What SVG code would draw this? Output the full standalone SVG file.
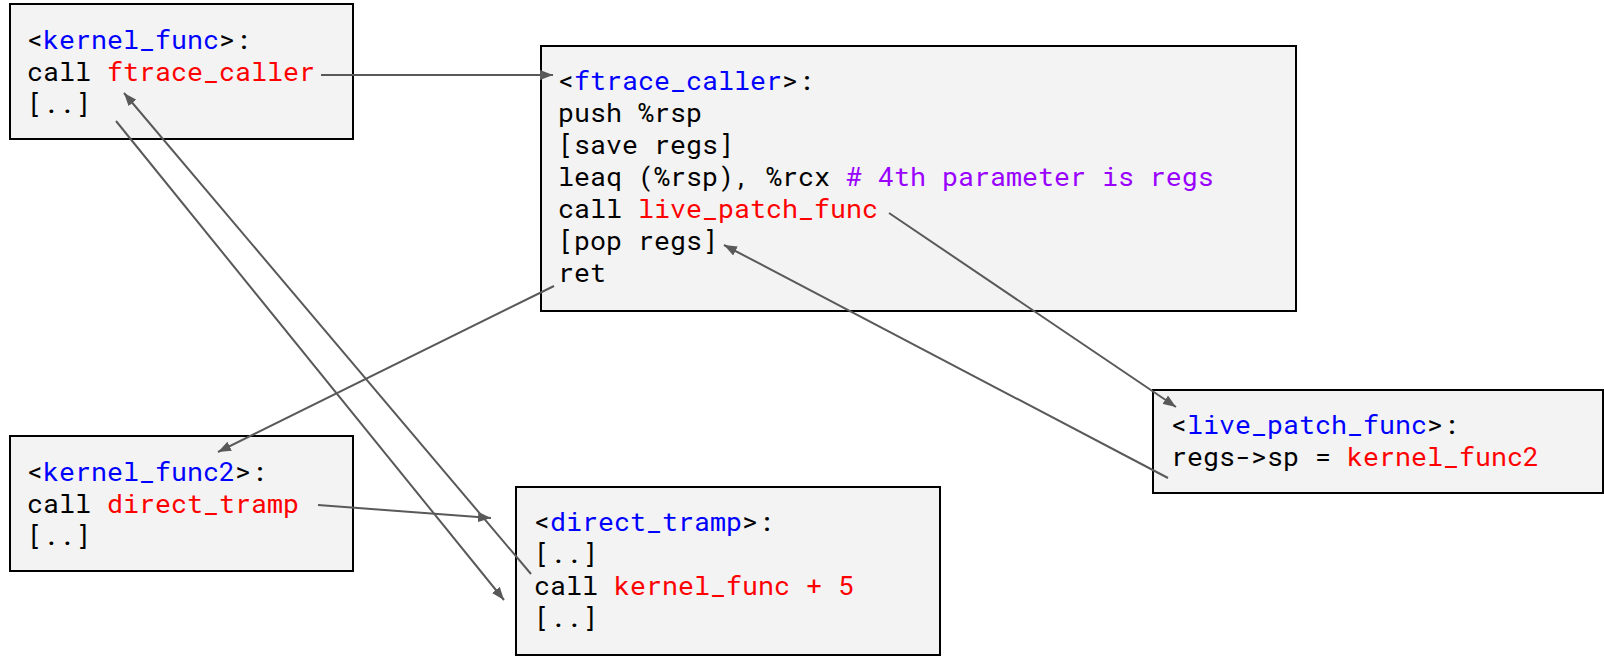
<svg xmlns="http://www.w3.org/2000/svg" width="1604" height="656" viewBox="0 0 1604 656">
<style>
.box{fill:#f3f3f3;stroke:#000;stroke-width:2}
text{font-family:"Roboto Mono","DejaVu Sans Mono","Liberation Mono",monospace;font-size:26.67px;fill:#000;white-space:pre}
.b{fill:#0000ff}
.r{fill:#ff0000}
.p{fill:#9900ff}
.c{fill:none;stroke:#595959;stroke-width:2;marker-end:url(#ah)}
</style>
<defs>
<marker id="ah" markerUnits="userSpaceOnUse" viewBox="0 0 13 10" refX="13" refY="5" markerWidth="13" markerHeight="10" orient="auto">
<path d="M0,0 L13,5 L0,10 z" fill="#595959"/>
</marker>
</defs>
<g id="kernel_func">
<rect class="box" x="10" y="4" width="343" height="135"/>
<text x="27" y="49">&lt;<tspan class="b">kernel_func</tspan>&gt;:</text>
<text x="27" y="81">call <tspan class="r">ftrace_caller</tspan></text>
<text x="27" y="113">[..]</text>
</g>
<g id="ftrace_caller">
<rect class="box" x="541" y="46" width="755" height="265"/>
<text x="558" y="90">&lt;<tspan class="b">ftrace_caller</tspan>&gt;:</text>
<text x="558" y="122">push %rsp</text>
<text x="558" y="154">[save regs]</text>
<text x="558" y="186">leaq (%rsp), %rcx <tspan class="p"># 4th parameter is regs</tspan></text>
<text x="558" y="218">call <tspan class="r">live_patch_func</tspan></text>
<text x="558" y="250">[pop regs]</text>
<text x="558" y="282">ret</text>
</g>
<g id="live_patch_func">
<rect class="box" x="1153" y="390" width="450" height="103"/>
<text x="1171" y="434">&lt;<tspan class="b">live_patch_func</tspan>&gt;:</text>
<text x="1171" y="466">regs-&gt;sp = <tspan class="r">kernel_func2</tspan></text>
</g>
<g id="kernel_func2">
<rect class="box" x="10" y="436" width="343" height="135"/>
<text x="27" y="481">&lt;<tspan class="b">kernel_func2</tspan>&gt;:</text>
<text x="27" y="513">call <tspan class="r">direct_tramp</tspan></text>
<text x="27" y="545">[..]</text>
</g>
<g id="direct_tramp">
<rect class="box" x="516" y="487" width="424" height="168"/>
<text x="534" y="531">&lt;<tspan class="b">direct_tramp</tspan>&gt;:</text>
<text x="534" y="563">[..]</text>
<text x="534" y="595">call <tspan class="r">kernel_func + 5</tspan></text>
<text x="534" y="627">[..]</text>
</g>
<g id="connectors">
<line class="c" x1="321" y1="75" x2="553" y2="75"/>
<line class="c" x1="554" y1="286" x2="218" y2="452"/>
<line class="c" x1="889" y1="213" x2="1176" y2="407"/>
<line class="c" x1="1168" y1="478" x2="724" y2="245"/>
<line class="c" x1="318" y1="505" x2="491" y2="518"/>
<line class="c" x1="116" y1="121" x2="504" y2="600"/>
<line class="c" x1="531" y1="574" x2="124" y2="93"/>
</g>
</svg>
